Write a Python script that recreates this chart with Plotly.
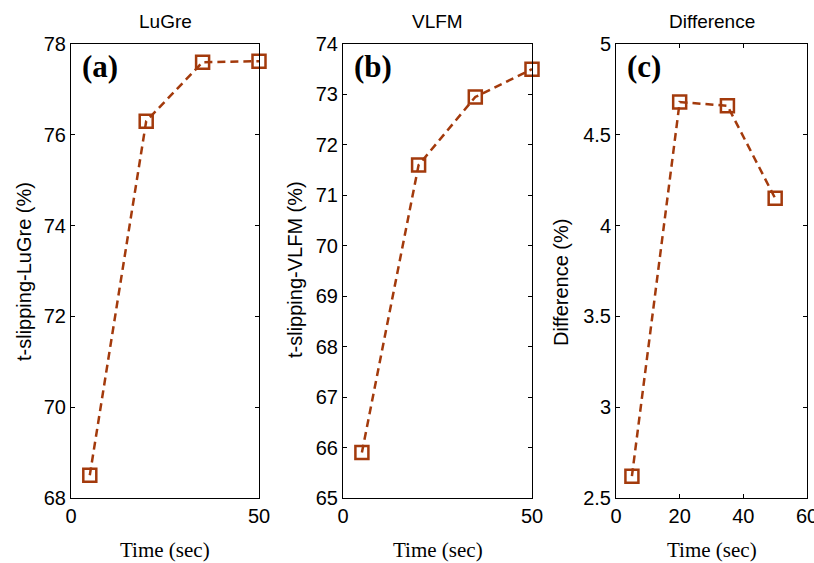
import plotly.graph_objects as go

# Simulation times (sec)
time_s = [5, 20, 35, 50]

# t-slipping percentages
lugre_pct = [68.5, 76.3, 77.6, 77.62]
vlfm_pct = [65.9, 71.6, 72.95, 73.5]
diff_pct = [2.62, 4.68, 4.66, 4.15]

titles = ["LuGre", "VLFM", "Difference"]
ylabels = ["t-slipping-LuGre (%)", "t-slipping-VLFM (%)", "Difference (%)"]
panel_tags = ["(a)", "(b)", "(c)"]

W, H = 814, 563
LINE_COLOR = "#A33A0C"

# pixel boxes for the three axes: (left, right, top, bottom)
boxes = [(71, 259, 44, 498), (343, 532, 44, 498), (616, 807, 44, 498)]
# centre of each rotated y-axis label (x, y) in pixels
ylabel_pos = [(24, 272), (295, 270), (561, 283)]
xranges = [[0, 50], [0, 50], [0, 60]]
xticks = [[0, 50], [0, 50], [0, 20, 40, 60]]
yranges = [[68, 78], [65, 74], [2.5, 5]]
yticks = [[68, 70, 72, 74, 76, 78], list(range(65, 75)), [2.5, 3, 3.5, 4, 4.5, 5]]
series = [lugre_pct, vlfm_pct, diff_pct]

fig = go.Figure()
annotations = []
sans = "Liberation Sans, Arial"
serif = "Liberation Serif, Times New Roman"
tick_font = dict(family=sans, size=20, color="black")

for i, (l, r, t, b) in enumerate(boxes):
    xa = "x" if i == 0 else f"x{i+1}"
    ya = "y" if i == 0 else f"y{i+1}"
    fig.add_trace(go.Scatter(
        x=time_s, y=series[i], mode="lines+markers",
        xaxis=xa, yaxis=ya,
        line=dict(color=LINE_COLOR, width=2.5, dash="8px,5px"),
        marker=dict(symbol="square-open", size=13, color=LINE_COLOR,
                    line=dict(color=LINE_COLOR, width=2.5)),
        showlegend=False, cliponaxis=False,
    ))
    axis_common = dict(showline=True, linecolor="black", linewidth=1,
                       mirror="ticks", ticks="inside", ticklen=4,
                       tickcolor="black", showgrid=False, zeroline=False,
                       automargin=False, ticklabeloverflow="allow",
                       tickfont=tick_font)
    fig.layout[f"xaxis{'' if i == 0 else i+1}"] = dict(
        domain=[l / W, r / W], anchor=ya, range=xranges[i],
        tickvals=xticks[i], **axis_common)
    fig.layout[f"yaxis{'' if i == 0 else i+1}"] = dict(
        domain=[1 - b / H, 1 - t / H], anchor=xa, range=yranges[i],
        tickvals=yticks[i], **axis_common)

    cx = (l + r) / 2
    annotations.append(dict(text=titles[i], x=cx / W, y=1 - 21 / H,
                            xref="paper", yref="paper", showarrow=False,
                            xanchor="center", yanchor="middle",
                            font=dict(family=sans, size=19, color="black")))
    annotations.append(dict(text="Time (sec)", x=cx / W, y=1 - 550 / H,
                            xref="paper", yref="paper", showarrow=False,
                            xanchor="center", yanchor="middle",
                            font=dict(family=serif, size=21, color="black")))
    lx, ly = ylabel_pos[i]
    annotations.append(dict(text=ylabels[i], x=lx / W, y=1 - ly / H,
                            xref="paper", yref="paper", showarrow=False, textangle=-90,
                            xanchor="center", yanchor="middle",
                            font=dict(family=sans, size=20, color="black")))
    annotations.append(dict(text="<b>" + panel_tags[i] + "</b>", x=(l + 9) / W, y=1 - 66 / H,
                            xref="paper", yref="paper", showarrow=False,
                            xanchor="left", yanchor="middle",
                            font=dict(family=serif, size=31, color="black")))

fig.update_layout(width=W, height=H, margin=dict(l=0, r=0, t=0, b=0, autoexpand=False),
                  paper_bgcolor="white", plot_bgcolor="white",
                  annotations=annotations)

fig.write_html("out.html")
